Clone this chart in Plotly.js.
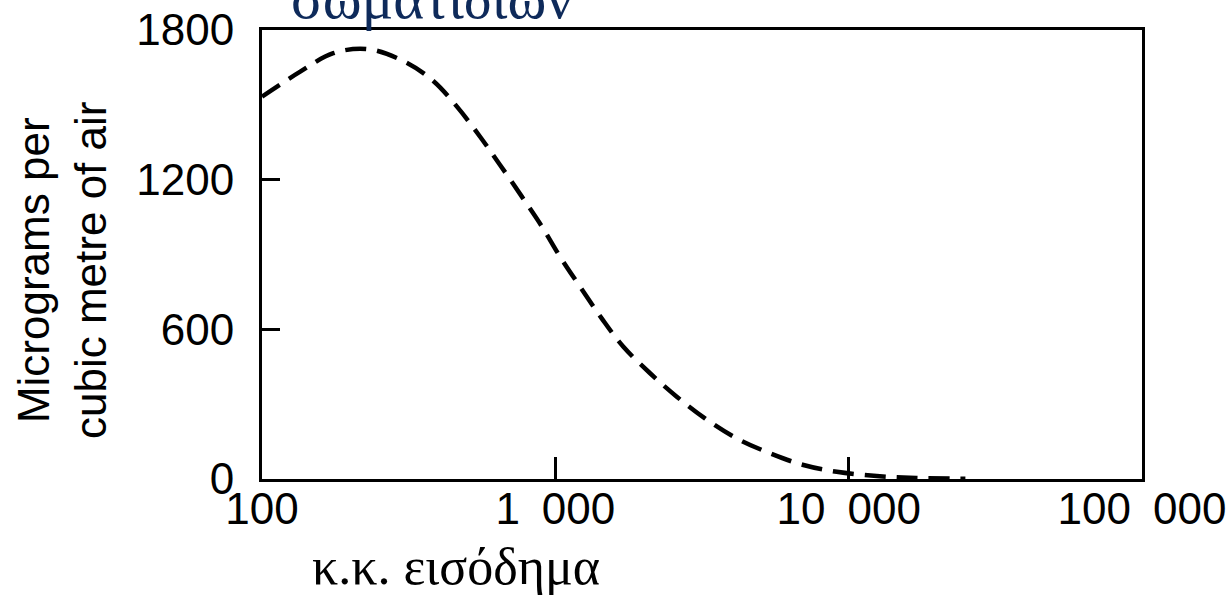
<!DOCTYPE html>
<html>
<head>
<meta charset="utf-8">
<script src="https://cdn.plot.ly/plotly-3.0.1.min.js"></script>
<style>
  html, body { margin: 0; padding: 0; background: #ffffff; }
  #chart { width: 1228px; height: 603px; }
</style>
</head>
<body>
<div id="chart"></div>
<script>
// Income per head (x, log scale) and particulate concentration (y)
const income = [100, 135, 175, 228, 303, 380, 462, 554, 648, 769, 901, 1038, 1214, 1439, 1706, 2104, 2594, 3236, 4150, 5395, 7012, 9108, 12470, 17000, 25000];
const concentration = [1533, 1633, 1707, 1724, 1676, 1600, 1493, 1372, 1259, 1132, 1011, 891, 771, 644, 530, 424, 330, 243, 163, 103, 56, 29, 12, 4, 1];

const xTickVals = [100, 1000, 10000, 100000];
const xTickText = ['100', '1\u2002000', '10\u2002000', '100\u2002000'];
const yTickVals = [0, 600, 1200, 1800];
const yTickText = ['0', '600', '1200', '1800'];

const titleText = 'σωματιδίων';
const xTitleText = 'κ.κ. εισόδημα';
const yTitleText = 'Micrograms per<br>cubic metre of air';

const sans = 'Liberation Sans, Arial, Helvetica, sans-serif';
const serif = 'Liberation Serif, Times New Roman, serif';

const trace = {
  x: income,
  y: concentration,
  type: 'scatter',
  mode: 'lines',
  line: { color: '#000000', width: 4.5, dash: '21px,11px', shape: 'spline', smoothing: 1 },
  hoverinfo: 'skip',
  showlegend: false
};

const L = 262, R = 1142, T = 30, B = 479, W = 1228, H = 603;
const px2x = p => (p - L) / (R - L);
const px2y = p => (B - p) / (B - T);

const layout = {
  width: W,
  height: H,
  margin: { l: L, r: W - R, t: T, b: H - B, pad: 0 },
  paper_bgcolor: '#ffffff',
  plot_bgcolor: '#ffffff',
  showlegend: false,
  xaxis: {
    type: 'log',
    range: [2, 5],
    tickvals: xTickVals,
    ticktext: xTickText,
    ticks: 'inside',
    ticklen: 22,
    tickwidth: 3,
    tickcolor: '#000000',
    showline: true,
    linewidth: 3,
    linecolor: '#000000',
    mirror: true,
    showgrid: false,
    zeroline: false,
    ticklabelstandoff: -11,
    tickfont: { family: sans, size: 44, color: '#000000' }
  },
  yaxis: {
    range: [0, 1800],
    tickvals: yTickVals,
    ticktext: yTickText,
    ticks: 'inside',
    ticklen: 18,
    tickwidth: 3,
    tickcolor: '#000000',
    showline: true,
    linewidth: 3,
    linecolor: '#000000',
    mirror: true,
    showgrid: false,
    zeroline: false,
    ticklabelstandoff: 16,
    tickfont: { family: sans, size: 44, color: '#000000' }
  },
  annotations: [
    {
      text: yTitleText,
      xref: 'paper', yref: 'paper',
      x: px2x(62), y: px2y(271),
      xanchor: 'center', yanchor: 'middle',
      textangle: -90,
      showarrow: false,
      align: 'center',
      font: { family: sans, size: 44, color: '#000000' }
    },
    {
      text: xTitleText,
      xref: 'paper', yref: 'paper',
      x: px2x(456), y: px2y(566),
      xanchor: 'center', yanchor: 'middle',
      showarrow: false,
      font: { family: serif, size: 52, color: '#000000' }
    },
    {
      text: titleText,
      xref: 'paper', yref: 'paper',
      x: px2x(432), y: px2y(-2),
      xanchor: 'center', yanchor: 'middle',
      showarrow: false,
      font: { family: serif, size: 59, color: '#0e2a5a' }
    }
  ]
};

Plotly.newPlot('chart', [trace], layout, { displayModeBar: false, staticPlot: true });
</script>
</body>
</html>
